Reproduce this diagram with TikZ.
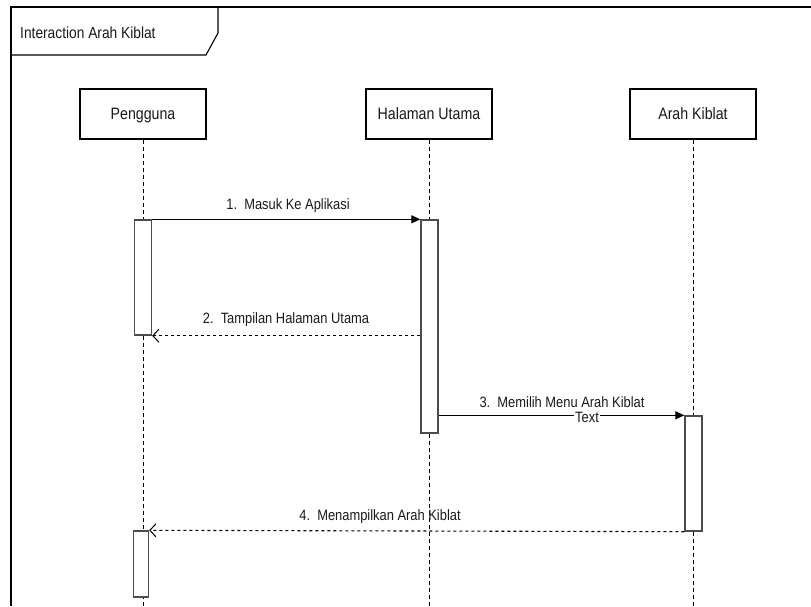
\documentclass[tikz,border=0pt]{standalone}
\usepackage{fontspec}
\setmainfont{Liberation Sans}
\newfontfamily\condfont[FakeStretch=0.86]{Liberation Sans}
\usetikzlibrary{arrows.meta}
\newcommand{\headtext}[1]{\raisebox{-5pt}[0pt][0pt]{#1}}
\begin{document}
\begin{tikzpicture}[x=1pt,y=-1pt,
  actor/.style={draw, line width=1.3pt, fill=white, minimum width=126pt,
    minimum height=50pt, inner sep=0pt, text=black!90,
    font=\condfont\fontsize{16.5}{19}\selectfont},
  actbar/.style={draw=black!70, line width=1.4pt, fill=white, inner sep=0pt},
  life/.style={line width=1pt, dash pattern=on 4pt off 3pt},
  call/.style={line width=1.2pt, -{Triangle[length=9pt,width=8pt]}},
  reply/.style={line width=1.1pt, dash pattern=on 3pt off 3pt,
    -{Straight Barb[length=6pt,width=13pt,line width=1pt]}},
  lbl/.style={font=\condfont\fontsize{15}{17}\selectfont, text=black!90, inner sep=0pt},
  frame/.style={line width=1.8pt}
]
\useasboundingbox (0,0) rectangle (811,606);

% interaction frame and its title tab
\draw[frame] (11,606) -- (11,7) -- (811,7);
\draw[line width=1.1pt] (11,55) -- (206,55) -- (218,33) -- (218,7);
\node[lbl, anchor=west, font=\condfont\fontsize{16}{18}\selectfont] (title) at (20,33) {Interaction Arah Kiblat};

% lifeline heads
\node[actor] (pg) at (143,114) {\headtext{Pengguna}};
\node[actor] (hu) at (429,114) {\headtext{Halaman Utama}};
\node[actor] (ak) at (693,114) {\headtext{Arah Kiblat}};

% lifeline tails
\coordinate (pgend) at (143,606);
\coordinate (huend) at (429,606);
\coordinate (akend) at (693,606);
\draw[life] (pg.south) -- (pgend);
\draw[life] (hu.south) -- (huend);
\draw[life] (ak.south) -- (akend);

% activation bars
\node[actbar, minimum width=17pt, minimum height=115pt] (a1) at (143,277.5) {};
\node[actbar, minimum width=17pt, minimum height=213pt] (a2) at (429.5,326.5) {};
\node[actbar, minimum width=17pt, minimum height=115pt] (a3) at (693.5,473.5) {};
\node[actbar, minimum width=15pt, minimum height=66pt] (a4) at (141,564) {};

% messages
\draw[call] (a1.north east) -- (a2.north west);
\node[lbl] (m1) at (288,206) {1.\ \ Masuk Ke Aplikasi};

\draw[reply] (a2.west |- a1.south east) -- (a1.south east);
\node[lbl] (m2) at (286,320) {2.\ \ Tampilan Halaman Utama};

\draw[call] (a2.east |- a3.north west) -- (a3.north west);
\node[lbl] (m3) at (562,402) {3.\ \ Memilih Menu Arah Kiblat};
\node[lbl, fill=white, inner xsep=1pt] (m3t) at (587,417) {Text};

\draw[reply] (a3.south west) -- (a4.north east);
\node[lbl] (m4) at (380,517) {4.\ \ Menampilkan Arah Kiblat};
\end{tikzpicture}
\end{document}
